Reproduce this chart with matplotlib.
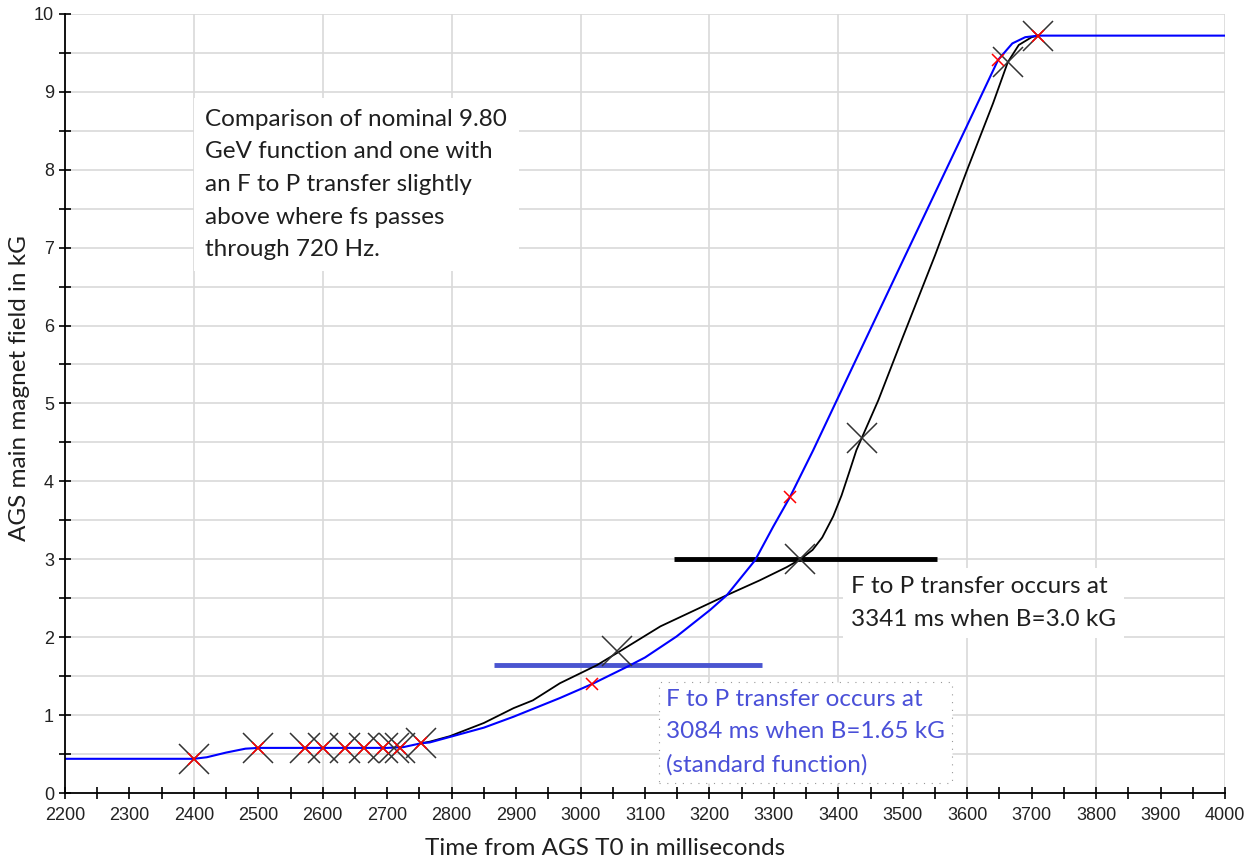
import matplotlib
matplotlib.use("Agg")
import matplotlib.pyplot as plt
import numpy as np
from matplotlib.ticker import MultipleLocator

# standard 9.80 GeV main magnet function (ms, kG)
std_t = [2200, 2400, 2420, 2450, 2480, 2500, 2600, 2700, 2725, 2753, 2766, 2797,
         2850, 2896, 2968, 3018, 3072, 3100, 3149, 3201, 3227, 3271, 3299, 3325,
         3361, 3397, 3500, 3600, 3648, 3670, 3690, 3710, 4000]
std_b = [0.44, 0.44, 0.46, 0.52, 0.57, 0.58, 0.58, 0.58, 0.59, 0.64, 0.65, 0.72,
         0.84, 0.98, 1.22, 1.40, 1.62, 1.74, 2.01, 2.35, 2.54, 2.99, 3.42, 3.80,
         4.40, 5.03, 6.83, 8.57, 9.41, 9.62, 9.70, 9.72, 9.72]

# function with F to P transfer at 3341 ms
fp_t = [2753, 2766, 2797, 2850, 2896, 2926, 2968, 3025, 3059, 3124, 3227, 3278,
        3320, 3341, 3360, 3375, 3392, 3405, 3417, 3428, 3436, 3462, 3500, 3550,
        3600, 3640, 3663, 3680, 3700, 3710]
fp_b = [0.64, 0.66, 0.73, 0.90, 1.09, 1.19, 1.41, 1.64, 1.81, 2.14, 2.54, 2.73,
        2.90, 3.00, 3.12, 3.28, 3.55, 3.82, 4.12, 4.40, 4.55, 5.04, 5.85, 6.90,
        8.00, 8.85, 9.38, 9.60, 9.70, 9.72]

# control points of the two functions
fp_pts_t = [2400, 2500, 2572, 2600, 2634, 2664, 2693, 2710, 2720, 2753,
            3057, 3341, 3437, 3663, 3710]
fp_pts_b = [0.44, 0.58, 0.58, 0.58, 0.58, 0.58, 0.58, 0.58, 0.58, 0.64,
            1.82, 3.00, 4.56, 9.38, 9.72]
std_pts_t = [2400, 2500, 2572, 2600, 2634, 2664, 2693, 2720, 2753,
             3018, 3325, 3648, 3710]
std_pts_b = [0.44, 0.58, 0.58, 0.58, 0.58, 0.58, 0.58, 0.58, 0.64,
             1.40, 3.80, 9.41, 9.72]

# transfer levels: (B, start, end)
fp_level = (3.0, 3145, 3553)
std_level = (1.65, 2865, 3281)

note_text = ("Comparison of nominal 9.80\nGeV function and one with\n"
             "an F to P transfer slightly\nabove where fs passes\nthrough 720 Hz.")
fp_text = "F to P transfer occurs at\n3341 ms when B=3.0 kG"
std_text = "F to P transfer occurs at\n3084 ms when B=1.65 kG\n(standard function)"

text_font = ["Lato", "DejaVu Sans"]
tick_font = ["Liberation Sans", "DejaVu Sans"]

fig = plt.figure(figsize=(12.5, 8.63), dpi=100)
ax = fig.add_axes([0.052, 0.081, 0.928, 0.903])

ax.set_xlim(2200, 4000)
ax.set_ylim(0, 10)

# light grid, drawn by hand so it sits under everything
for gx in np.arange(2400, 4001, 200):
    ax.axvline(gx, color="#d9d9d9", lw=1.2, zorder=0)
for gy in np.arange(0.5, 10.01, 0.5):
    ax.axhline(gy, color="#d9d9d9", lw=1.2, zorder=0)

ax.plot(fp_t, fp_b, color="black", lw=1.3, zorder=3)
ax.plot(std_t, std_b, color="#0000ff", lw=1.5, zorder=4)

ax.hlines(fp_level[0], fp_level[1], fp_level[2], color="black", lw=3.5, zorder=2)
ax.hlines(std_level[0], std_level[1], std_level[2], color="#4a55d0", lw=3.5, zorder=2)

ax.plot(fp_pts_t, fp_pts_b, ls="none", marker="x", ms=21, mew=1.1,
        color="#333333", zorder=5)
ax.plot(std_pts_t, std_pts_b, ls="none", marker="x", ms=9, mew=1.1,
        color="red", zorder=6)

ax.text(2418, 8.78, note_text, fontsize=17.5, family=text_font, color="#1f1f1f",
        va="top", ha="left", linespacing=1.68, zorder=7,
        bbox=dict(facecolor="white", edgecolor="none", pad=8))
ax.text(3420, 2.78, fp_text, fontsize=17.5, family=text_font, color="#1f1f1f",
        va="top", ha="left", linespacing=1.68, zorder=7,
        bbox=dict(facecolor="white", edgecolor="none", pad=6))
ax.text(3133, 1.34, std_text, fontsize=17.5, family=text_font, color="#4a50d8",
        va="top", ha="left", linespacing=1.68, zorder=7,
        bbox=dict(facecolor="white", edgecolor="#999999", ls=(0, (1, 6)),
                  lw=0.8, pad=5))

for side in ("top", "right"):
    ax.spines[side].set_visible(False)
for side in ("left", "bottom"):
    ax.spines[side].set_linewidth(1.3)
    ax.spines[side].set_zorder(8)

ax.xaxis.set_major_locator(MultipleLocator(100))
ax.xaxis.set_minor_locator(MultipleLocator(50))
ax.yaxis.set_major_locator(MultipleLocator(1))
ax.yaxis.set_minor_locator(MultipleLocator(0.5))
ax.tick_params(which="both", direction="inout", length=8, width=1.2, color="black")
ax.tick_params(axis="both", which="major", labelsize=13, labelcolor="#222222")
ax.tick_params(axis="x", which="major", pad=6)
ax.tick_params(axis="y", which="major", pad=4)
for lbl in ax.get_xticklabels() + ax.get_yticklabels():
    lbl.set_family(tick_font)

ax.set_xlabel("Time from AGS T0 in milliseconds", fontsize=17.5, family=text_font,
              color="#1f1f1f")
ax.xaxis.set_label_coords(0.466, -0.058)
ax.set_ylabel("AGS main magnet field in kG", fontsize=17.5, family=text_font,
              color="#1f1f1f")
ax.yaxis.set_label_coords(-0.03, 0.52)

fig.savefig("out.png", dpi=100)
